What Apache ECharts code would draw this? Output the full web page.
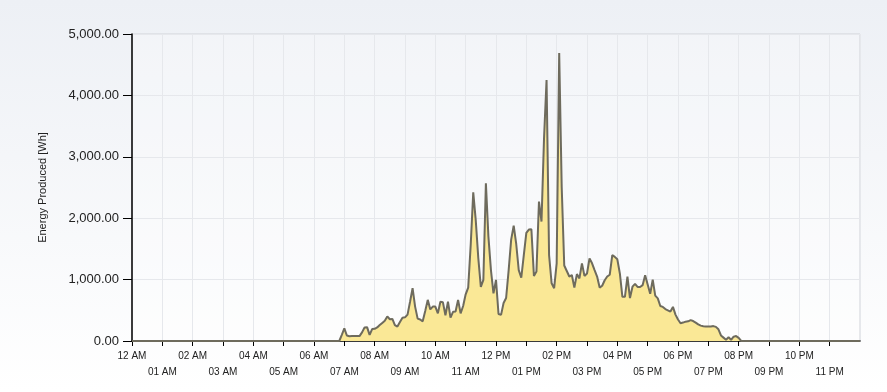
<!DOCTYPE html>
<html>
<head>
<meta charset="utf-8">
<script src="https://cdn.jsdelivr.net/npm/echarts@6/dist/echarts.min.js"></script>
<style>
html,body{margin:0;padding:0;background:#fff;}
#c{width:887px;height:392px;}
</style>
</head>
<body>
<div id="c"></div>
<script>
// Energy produced per 5-minute interval (Wh), starting 06:50, step 5 min
const START_MIN = 410;
const STEP_MIN = 5;
const values = [
  0,100,205,90,78,80,80,80,80,140,220,225,100,195,198,220,260,295,330,400,
  355,360,260,235,310,380,385,430,640,860,560,365,350,320,490,670,515,560,560,450,
  640,630,420,640,380,475,480,670,450,570,760,870,1570,2420,1960,1350,880,995,2570,1700,
  1155,775,995,440,425,620,700,1150,1650,1880,1580,1155,1030,1400,1760,1815,1820,1060,1130,2270,
  1945,3300,4250,1400,940,860,1265,4690,2500,1230,1140,1050,1075,870,1090,1020,1265,1060,1100,1345,
  1265,1155,1050,870,900,990,1050,1080,1400,1370,1330,1100,720,720,1050,700,885,930,880,880,
  910,1070,920,770,1000,740,695,570,555,520,500,480,555,430,350,290,300,315,320,340,
  325,300,270,250,240,235,235,237,243,230,190,90,55,20,60,20,70,80,50,0
];
const yTicks = [0, 1000, 2000, 3000, 4000, 5000];
const hourLabels = ['12 AM','01 AM','02 AM','03 AM','04 AM','05 AM','06 AM','07 AM','08 AM','09 AM','10 AM','11 AM',
                    '12 PM','01 PM','02 PM','03 PM','04 PM','05 PM','06 PM','07 PM','08 PM','09 PM','10 PM','11 PM'];

const data = [[0, 0]];
values.forEach((v, i) => data.push([START_MIN + i * STEP_MIN, v]));
data.push([1440, 0]);

const fmt = new Intl.NumberFormat('en-US', {minimumFractionDigits: 2, maximumFractionDigits: 2});
const chart = echarts.init(document.getElementById('c'), null, {renderer: 'canvas'});
chart.setOption({
  animation: false,
  backgroundColor: new echarts.graphic.LinearGradient(0, 0, 0, 1, [
    {offset: 0, color: '#edf0f5'}, {offset: 1, color: '#ffffff'}
  ]),
  textStyle: {fontFamily: 'Liberation Sans, Arial, sans-serif'},
  grid: {left: 132, right: 27, top: 34, bottom: 51, show: true, borderColor: '#d0d3d8', borderWidth: 1, backgroundColor: 'rgba(255,255,255,0.25)'},
  xAxis: {
    type: 'value', min: 0, max: 1440, interval: 60,
    axisLine: {show: true, onZero: false, lineStyle: {color: '#000', width: 1.5}},
    axisTick: {show: true, length: 5, lineStyle: {color: '#000'}},
    splitLine: {show: true, lineStyle: {color: '#e6e8ec', width: 1}},
    axisLabel: {
      showMaxLabel: false, margin: 7, fontSize: 10, lineHeight: 16, color: '#222',
      formatter: function (v) {
        const h = Math.round(v / 60);
        if (h >= 24) return '';
        return (h % 2 === 1 ? '\n' : '') + hourLabels[h];
      }
    }
  },
  yAxis: {
    type: 'value', min: yTicks[0], max: yTicks[yTicks.length - 1], interval: 1000,
    name: 'Energy Produced [Wh]', nameLocation: 'middle', nameGap: 84,
    nameTextStyle: {fontSize: 11, color: '#222'},
    axisLine: {show: true, lineStyle: {color: '#000', width: 1.5}},
    axisTick: {show: true, length: 9, lineStyle: {color: '#000'}},
    splitLine: {show: true, lineStyle: {color: '#e6e8ec', width: 1}},
    axisLabel: {margin: 13, fontSize: 13, color: '#222', formatter: v => fmt.format(v)}
  },
  series: [{
    type: 'line', data: data, showSymbol: false, smooth: false,
    lineStyle: {color: '#6e6b5d', width: 2},
    areaStyle: {color: '#fae896', opacity: 1}
  }]
});
</script>
</body>
</html>
